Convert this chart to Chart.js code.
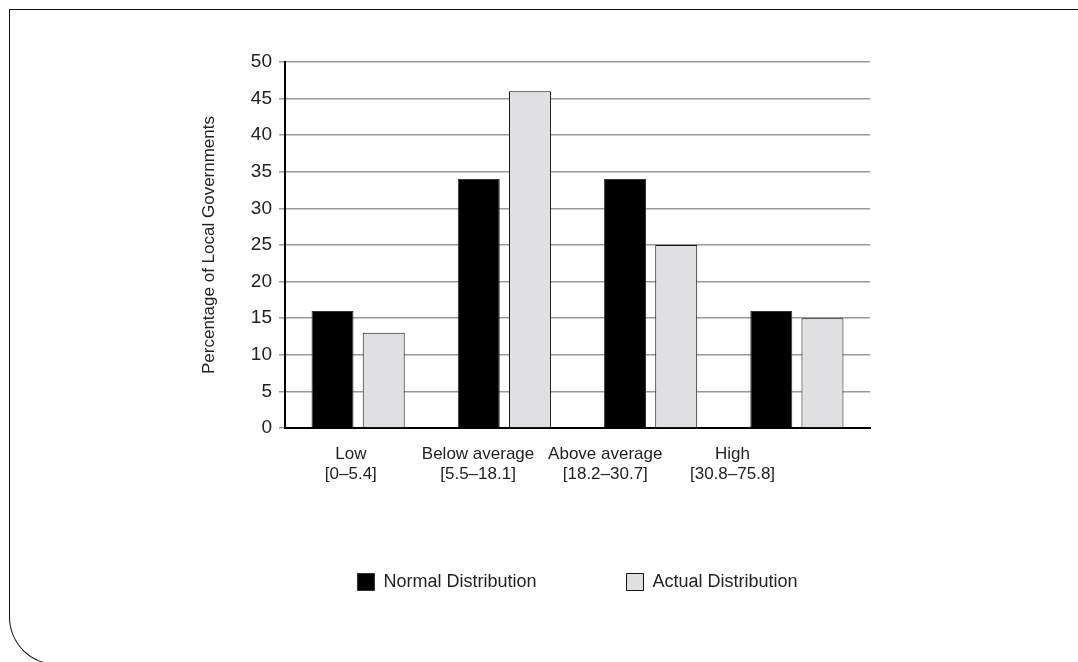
<!DOCTYPE html>
<html>
<head>
<meta charset="utf-8">
<script src="https://cdn.jsdelivr.net/npm/chart.js@4"></script>
<style>
  body { margin: 0; background: #fff; }
  #wrap { position: relative; width: 1078px; height: 662px; overflow: hidden; }
  #frame {
    position: absolute; left: 9px; top: 9px; width: 1100px; height: 656px;
    box-sizing: border-box; border-left: 1.5px solid #111; border-top: 1.5px solid #111;
    border-bottom: 1.5px solid #111; border-bottom-left-radius: 48px; pointer-events: none;
  }
  canvas { position: absolute; left: 0; top: 0; }
</style>
</head>
<body>
<div id="wrap">
  <canvas id="chart" width="1078" height="662"></canvas>
  <div id="frame"></div>
</div>
<script>
let categories = [['Low', '[0–5.4]'], ['Below average', '[5.5–18.1]'], ['Above average', '[18.2–30.7]'], ['High', '[30.8–75.8]']];
let normalValues = [16, 34, 34, 16];
let actualValues = [13, 46, 25, 15];
let yTicks = [0, 5, 10, 15, 20, 25, 30, 35, 40, 45, 50];

let textColor = '#222';
let font = 'Liberation Sans, Arial, sans-serif';

// in the original the category labels sit a bit tighter than the bar groups
let labelSlots = categories.map((c, i) => i * 0.87 - 0.05);

// chart.js centres the legend row off by half the item padding, put it back
let legendShift = {
  id: 'legendShift',
  afterLayout(chart) {
    let p = chart.legend.options.labels.padding / 2;
    chart.legend.left += p;
    chart.legend.right += p;
  }
};

new Chart(document.getElementById('chart'), {
  type: 'bar',
  data: {
    labels: categories,
    datasets: [{
      label: 'Normal Distribution',
      data: normalValues,
      backgroundColor: '#000',
      borderColor: '#333',
      borderWidth: 1
    }, {
      label: 'Actual Distribution',
      data: actualValues,
      backgroundColor: '#e0e0e2',
      borderColor: '#111',
      borderWidth: 1
    }]
  },
  options: {
    responsive: false,
    animation: false,
    categoryPercentage: 0.7,
    barPercentage: 0.82,
    layout: { padding: { left: 195, right: 208, top: 62, bottom: 61 } },
    plugins: {
      tooltip: { enabled: false },
      legend: {
        position: 'bottom',
        labels: {
          color: textColor,
          font: { family: font, size: 18 },
          boxWidth: 17,
          boxHeight: 17,
          padding: 90
        }
      }
    },
    scales: {
      x: {
        grid: { display: false },
        border: { color: '#000', width: 2 },
        ticks: { display: false },
        afterFit: s => { s.height = 0; }
      },
      xLabels: {
        type: 'linear',
        position: 'bottom',
        weight: 1,
        offset: false,
        min: -0.5,
        max: categories.length - 0.5,
        grid: { display: false, offset: false },
        border: { display: false },
        afterBuildTicks: s => { s.ticks = labelSlots.map(v => ({ value: v })); },
        ticks: {
          autoSkip: false,
          maxRotation: 0,
          color: textColor,
          font: { family: font, size: 17 },
          padding: 8,
          callback: (v, i) => categories[i]
        },
        afterFit: s => { s.height = 55; }
      },
      y: {
        min: 0,
        max: 50,
        afterBuildTicks: s => { s.ticks = yTicks.map(v => ({ value: v })); },
        grid: { color: '#999', lineWidth: 1.5, tickLength: 6, tickColor: '#999' },
        border: { color: '#000', width: 2 },
        ticks: { color: textColor, font: { family: font, size: 19 }, padding: 7 },
        title: {
          display: true,
          text: 'Percentage of Local Governments',
          color: textColor,
          font: { family: font, size: 17 },
          padding: 4
        },
        afterFit: s => { s.width = 90; }
      }
    }
  },
  plugins: [legendShift]
});
</script>
</body>
</html>
